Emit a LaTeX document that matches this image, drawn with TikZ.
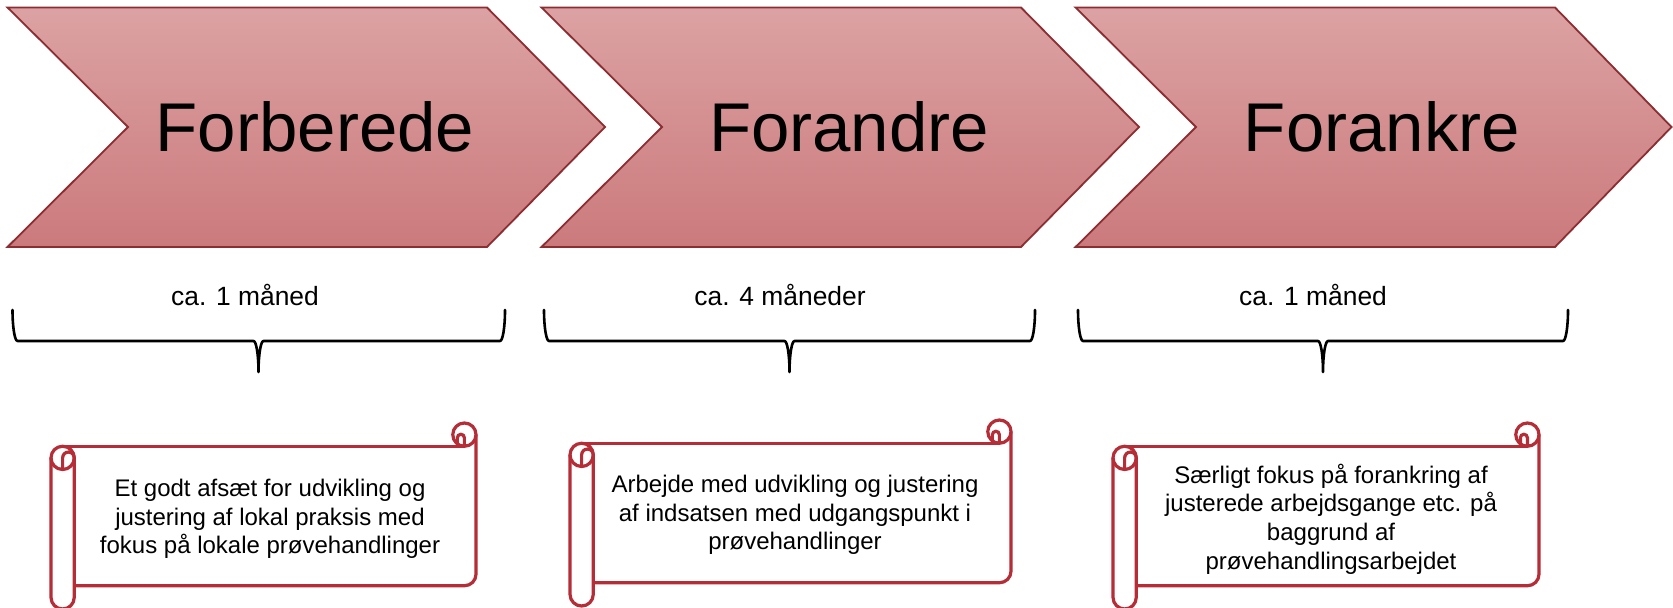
\documentclass[tikz,border=0pt]{standalone}
\usepackage{fontspec}
\setmainfont{Liberation Sans}
\definecolor{chevTop}{RGB}{220,162,163}
\definecolor{chevBot}{RGB}{203,122,124}
\definecolor{chevLine}{RGB}{140,45,50}
\definecolor{scrollRed}{RGB}{180,45,55}
\tikzset{
  chev/.style={draw=chevLine, line width=0.9pt, top color=chevTop, bottom color=chevBot, line join=miter},
  title/.style={font=\fontsize{34.5}{40}\selectfont, inner sep=0pt, anchor=base, text=black},
  lbl/.style={font=\fontsize{13.2}{15.8}\selectfont, inner sep=0pt, anchor=base, text=black},
  stxt/.style={font=\fontsize{12}{14.35}\selectfont, inner sep=0pt, align=center, text=black},
  scrollline/.style={draw=scrollRed, line width=1.6pt},
  braceline/.style={draw=black, line width=1.3pt, line cap=round, line join=round}
}
\newcommand\drawscroll[5]{%
  \pgfmathsetmacro\sL{#1}\pgfmathsetmacro\sT{#2}\pgfmathsetmacro\sR{#3}%
  \pgfmathsetmacro\sB{#4}\pgfmathsetmacro\sC{#5}%
  \pgfmathsetmacro\sH{\sC/2}\pgfmathsetmacro\sQ{\sC/4}%
  \pgfmathsetmacro\sHr{\sH*0.5}\pgfmathsetmacro\sQr{\sQ*0.5}%
  \pgfmathsetmacro\sXf{\sR-\sH}%
  \draw[scrollline, rounded corners=\sHr pt] (\sL,\sT+1.5*\sC) -- (\sL,\sB) -- (\sL+\sC,\sB) -- (\sL+\sC,\sT+1.5*\sC);
  \draw[scrollline, rounded corners=\sHr pt] (\sL+\sC,\sB-\sC) -- (\sR,\sB-\sC) -- (\sR,\sT+\sH);
  \draw[scrollline] (\sL+\sH,\sT+\sC) -- (\sXf,\sT+\sC);
  \draw[scrollline] (\sXf,\sT+\sH) circle[radius=\sHr pt];
  \draw[scrollline] (\sL+\sH,\sT+1.5*\sC) circle[radius=\sHr pt];
  \draw[scrollline, rounded corners=\sQr pt] (\sL+\sH,\sT+2*\sC) -- (\sL+\sH,\sT+1.5*\sC-\sQ) -- (\sL+\sC,\sT+1.5*\sC-\sQ) -- (\sL+\sC,\sT+1.5*\sC);
  \draw[scrollline, rounded corners=1.75pt] (\sXf,\sT+\sC) -- (\sXf,\sT+\sC-12) -- (\sXf-7,\sT+\sC-12) -- (\sXf-7,\sT+\sC);
}
\newcommand\drawbrace[4]{% l r t cx
  \draw[braceline] (#1,#3) .. controls (#1,#3+17.12) and (#1+2.24,#3+31) .. (#1+5,#3+31)
    -- (#4-5,#3+31) .. controls (#4-2.24,#3+31) and (#4,#3+44.88) .. (#4,#3+62)
    .. controls (#4,#3+44.88) and (#4+2.24,#3+31) .. (#4+5,#3+31)
    -- (#2-5,#3+31) .. controls (#2-2.24,#3+31) and (#2,#3+17.12) .. (#2,#3);
}
\begin{document}
\begin{tikzpicture}[x=0.5pt, y=-0.5pt]
\useasboundingbox (0,0) rectangle (1673,608);
% chevrons
\path[chev] (7.5,7.5) -- (487,7.5) -- (605,127) -- (487,247) -- (7.5,247) -- (128,127) -- cycle;
\path[chev] (541.5,7.5) -- (1021,7.5) -- (1139,127) -- (1021,247) -- (541.5,247) -- (662,127) -- cycle;
\path[chev] (1075.5,7.5) -- (1555,7.5) -- (1671.5,127) -- (1555,247) -- (1075.5,247) -- (1196,127) -- cycle;
\node[title] (t1) at (315,151.5) {Forberede};
\node[title] (t2) at (849,151.5) {Forandre};
\node[title] (t3) at (1382,151.5) {Forankre};
% durations
\node[lbl] (d1) at (245,306) {ca. 1 måned};
\node[lbl] (d2) at (780,306) {ca. 4 måneder};
\node[lbl] (d3) at (1313,306) {ca. 1 måned};
% braces
\drawbrace{12.5}{505}{310}{258.5}
\drawbrace{544}{1035}{310}{789.5}
\drawbrace{1078}{1568}{310}{1323}
% scrolls
\drawscroll{51}{423}{476}{609}{23.25}
\drawscroll{570}{420}{1011}{606}{23.25}
\drawscroll{1113}{423}{1539}{609}{23.25}
\node[stxt] (s1) at (270,519) {Et godt afsæt for udvikling og\\justering af lokal praksis med\\fokus på lokale prøvehandlinger};
\node[stxt] (s2) at (795,515) {Arbejde med udvikling og justering\\af indsatsen med udgangspunkt i\\prøvehandlinger};
\node[stxt] (s3) at (1331,519) {Særligt fokus på forankring af\\justerede arbejdsgange etc. på\\baggrund af\\prøvehandlingsarbejdet};
\end{tikzpicture}
\end{document}
